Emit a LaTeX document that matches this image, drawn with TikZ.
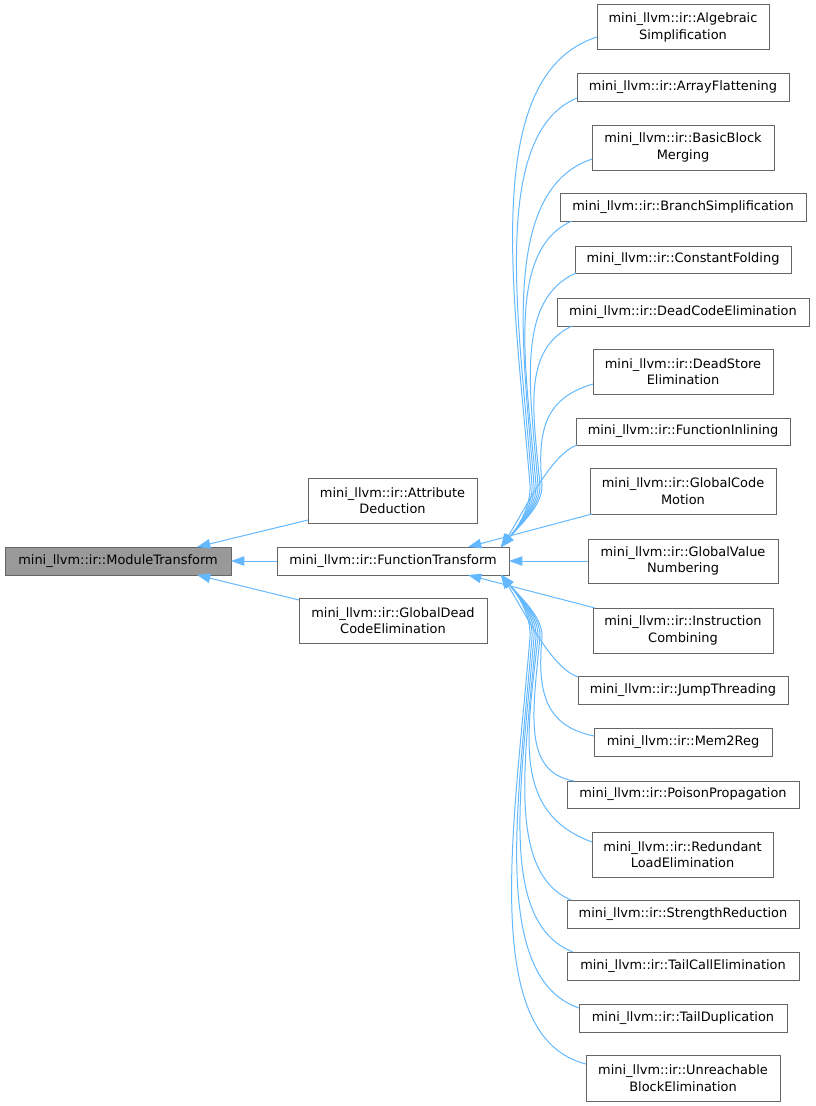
\documentclass[tikz,border=0pt]{standalone}
\usepackage{fontspec}
\setmainfont{DejaVu Sans}
\usetikzlibrary{arrows.meta,calc}
\definecolor{edgecol}{HTML}{63B8FF}
\definecolor{boxcol}{HTML}{666666}
\definecolor{mtfill}{HTML}{999999}
\begin{document}
\begin{tikzpicture}[x=0.75pt,y=-0.75pt,
  box/.style={draw=boxcol, line width=0.75pt, inner sep=0pt, outer sep=0pt, align=center, font=\fontsize{9.7}{12.4}\selectfont},
  place/.style n args={4}{minimum width={(#3-#1)*0.75pt}, minimum height={(#4-#2)*0.75pt}, at={({(#1+#3)/2},{(#2+#4)/2})}},
  edge/.style={draw=edgecol, line width=0.75pt, {Triangle[length=10pt,width=7pt]}-}]
\useasboundingbox (0,0) rectangle (815,1106);
% left part
\node[box, fill=mtfill, place={5}{547}{231}{575}] (mt) {mini\_llvm::ir::ModuleTransform};
\node[box, place={308}{478}{477}{523}] (ad) {mini\_llvm::ir::Attribute\\Deduction};
\node[box, place={277}{547}{509}{575}] (ft) {mini\_llvm::ir::FunctionTransform};
\node[box, place={299}{598}{487}{643}] (gdce) {mini\_llvm::ir::GlobalDead\\CodeElimination};
% right column
\node[box, place={597}{5}{769}{50}] (alg) {mini\_llvm::ir::Algebraic\\Simplification};
\node[box, place={577}{74}{789}{101}] (arr) {mini\_llvm::ir::ArrayFlattening};
\node[box, place={592}{125}{774}{170}] (bbm) {mini\_llvm::ir::BasicBlock\\Merging};
\node[box, place={560}{193}{806}{221}] (brs) {mini\_llvm::ir::BranchSimplification};
\node[box, place={575}{246}{791}{273}] (cf) {mini\_llvm::ir::ConstantFolding};
\node[box, place={557}{298}{809}{326}] (dce) {mini\_llvm::ir::DeadCodeElimination};
\node[box, place={593}{349}{773}{394}] (dse) {mini\_llvm::ir::DeadStore\\Elimination};
\node[box, place={576}{418}{790}{445}] (fi) {mini\_llvm::ir::FunctionInlining};
\node[box, place={590}{468}{776}{514}] (gcm) {mini\_llvm::ir::GlobalCode\\Motion};
\node[box, place={588}{539}{778}{583}] (gvn) {mini\_llvm::ir::GlobalValue\\Numbering};
\node[box, place={593}{608}{773}{653}] (ic) {mini\_llvm::ir::Instruction\\Combining};
\node[box, place={578}{676}{788}{704}] (jt) {mini\_llvm::ir::JumpThreading};
\node[box, place={594}{728}{772}{756}] (m2r) {mini\_llvm::ir::Mem2Reg};
\node[box, place={567}{781}{799}{808}] (pp) {mini\_llvm::ir::PoisonPropagation};
\node[box, place={592}{832}{773}{877}] (rle) {mini\_llvm::ir::Redundant\\LoadElimination};
\node[box, place={567}{900}{799}{928}] (sr) {mini\_llvm::ir::StrengthReduction};
\node[box, place={567}{952}{799}{980}] (tce) {mini\_llvm::ir::TailCallElimination};
\node[box, place={579}{1004}{787}{1032}] (td) {mini\_llvm::ir::TailDuplication};
\node[box, place={586}{1055}{780}{1101}] (ube) {mini\_llvm::ir::Unreachable\\BlockElimination};
% left edges
\draw[edge] (mt.east) -- (ft.west);
\draw[edge] ($(mt.north east)+(-34,0)$) -- ($(ad.south west)+(0,-3)$);
\draw[edge] ($(mt.south east)+(-34,0)$) -- ($(gdce.north west)+(0,2)$);
% straight right edges
\draw[edge] ($(ft.north east)+(-41,0)$) -- ($(gcm.south west)+(2,0)$);
\draw[edge] (ft.east) -- (gvn.west);
\draw[edge] ($(ft.south east)+(-41,0)$) -- ($(ic.north west)+(2,0)$);
% curved top edges
\draw[edge] ($(ft.north east)+(-8,0)$) .. controls (520,525) and (531,505) .. (530,485)
  .. controls (515,300) and (478,75) .. ($(alg.south west)+(0,-13)$);
\draw[edge] ($(ft.north east)+(-8,0)$) .. controls (520,525) and (533,505) .. (532,485)
  .. controls (520,330) and (488,135) .. ($(arr.south west)+(0,-3)$);
\draw[edge] ($(ft.north east)+(-8,0)$) .. controls (520,525) and (535,505) .. (534,485)
  .. controls (523,350) and (500,190) .. ($(bbm.south west)+(0,-11)$);
\draw[edge] ($(ft.north east)+(-8,0)$) .. controls (520,525) and (537,505) .. (536,485)
  .. controls (526,370) and (505,250) .. ($(brs.south west)+(12,0)$);
\draw[edge] ($(ft.north east)+(-8,0)$) .. controls (520,525) and (539,505) .. (538,485)
  .. controls (530,390) and (515,300) .. ($(cf.south west)+(1,0)$);
\draw[edge] ($(ft.north east)+(-8,0)$) .. controls (520,525) and (541,505) .. (540,485)
  .. controls (533,410) and (522,350) .. ($(dce.south west)+(15,0)$);
\draw[edge] ($(ft.north east)+(-8,0)$) .. controls (520,525) and (543,505) .. (542,485)
  .. controls (537,430) and (545,398) .. ($(dse.south west)+(0,-10)$);
\draw[edge] ($(ft.north east)+(-8,0)$) .. controls (525,510) and (550,455) .. ($(fi.south west)+(1,0)$);
% curved bottom edges
\draw[edge] ($(ft.south east)+(-8,0)$) .. controls (525,612) and (550,667) .. ($(jt.north west)+(0,1)$);
\draw[edge] ($(ft.south east)+(-8,0)$) .. controls (520,597) and (543,617) .. (542,637)
  .. controls (537,692) and (545,726) .. ($(m2r.north west)+(0,8)$);
\draw[edge] ($(ft.south east)+(-8,0)$) .. controls (520,597) and (541,617) .. (540,637)
  .. controls (533,712) and (522,772) .. ($(pp.north west)+(7,0)$);
\draw[edge] ($(ft.south east)+(-8,0)$) .. controls (520,597) and (539,617) .. (538,637)
  .. controls (528,732) and (510,812) .. ($(rle.north west)+(0,10)$);
\draw[edge] ($(ft.south east)+(-8,0)$) .. controls (520,597) and (537,617) .. (536,637)
  .. controls (526,752) and (505,872) .. ($(sr.north west)+(4,0)$);
\draw[edge] ($(ft.south east)+(-8,0)$) .. controls (520,597) and (535,617) .. (534,637)
  .. controls (522,780) and (496,922) .. ($(tce.north west)+(6,0)$);
\draw[edge] ($(ft.south east)+(-8,0)$) .. controls (520,597) and (533,617) .. (532,637)
  .. controls (520,792) and (488,977) .. ($(td.north west)+(0,4)$);
\draw[edge] ($(ft.south east)+(-8,0)$) .. controls (520,597) and (531,617) .. (530,637)
  .. controls (515,822) and (478,1037) .. ($(ube.north west)+(0,9)$);
\end{tikzpicture}
\end{document}
